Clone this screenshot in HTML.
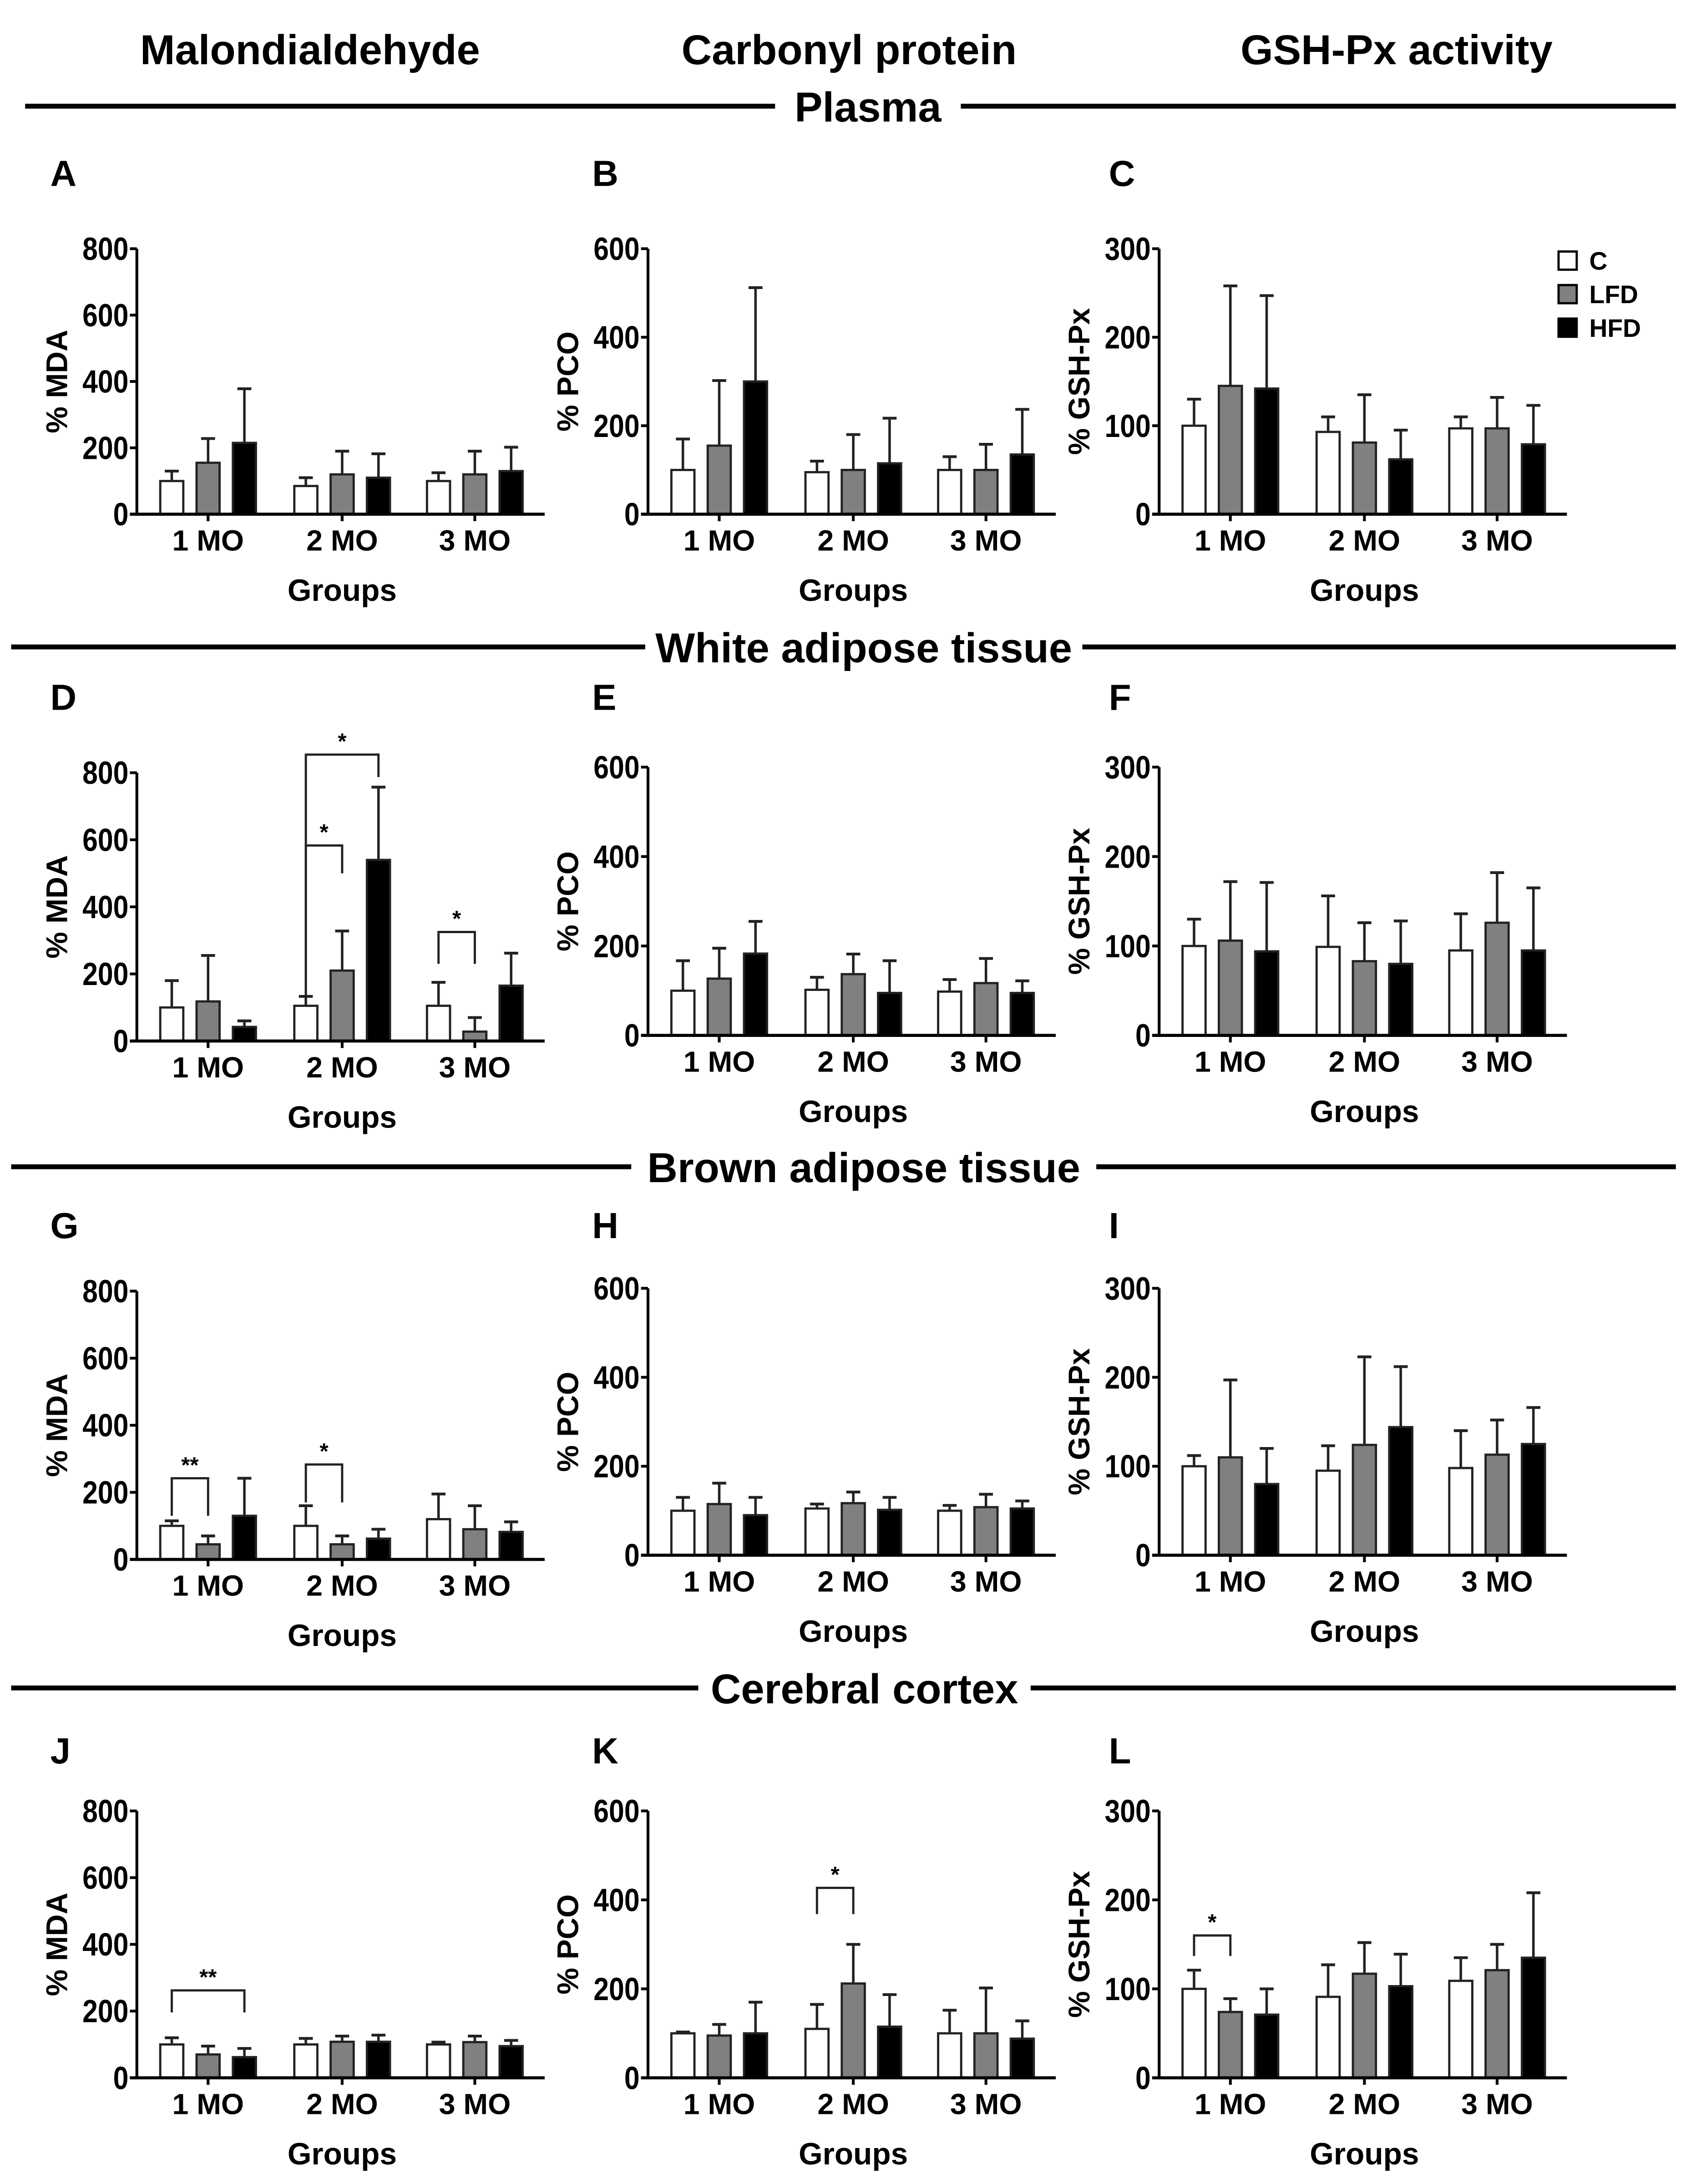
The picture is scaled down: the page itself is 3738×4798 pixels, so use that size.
<!DOCTYPE html>
<html><head><meta charset="utf-8"><style>
html,body{margin:0;padding:0;background:#fff;}
svg{display:block;}
text{font-family:"Liberation Sans",Arial,sans-serif;font-weight:bold;fill:#000;}
</style></head><body>
<svg id="fig" xmlns="http://www.w3.org/2000/svg" width="3738" height="4798" viewBox="0 0 1218 1563" preserveAspectRatio="none">
<text x="222" y="46" font-size="30" text-anchor="middle">Malondialdehyde</text>
<text x="608" y="46" font-size="30" text-anchor="middle">Carbonyl protein</text>
<text x="1000" y="46" font-size="30" text-anchor="middle">GSH-Px activity</text>
<g id="charts"></g>
</svg>
<script>
const categories = ['1 MO','2 MO','3 MO'];
const seriesNames = ['C','LFD','HFD'];
const seriesFill = ['#fff','#808080','#000'];
const sections = ['Plasma','White adipose tissue','Brown adipose tissue','Cerebral cortex'];
const letters = ['A','B','C','D','E','F','G','H','I','J','K','L'];
const yMaxes = [800,600,300];
const yTickSteps = [200,200,100];
const yTitles = ['% MDA','% PCO','% GSH-Px'];
// means [C, LFD, HFD] per group, error tops (mean+SD)
const A_mean = [[100,155,215],[85,120,110],[100,120,130]];
const A_top  = [[130,228,378],[110,190,182],[125,190,202]];
const B_mean = [[100,155,300],[95,100,115],[100,100,135]];
const B_top  = [[170,302,512],[120,180,217],[130,158,237]];
const C_mean = [[100,145,142],[93,81,62],[97,97,79]];
const C_top  = [[130,258,247],[110,135,95],[110,132,123]];
const D_mean = [[100,118,42],[105,210,540],[105,28,165]];
const D_top  = [[180,255,60],[133,328,757],[175,70,262]];
const E_mean = [[100,127,183],[102,137,95],[98,117,95]];
const E_top  = [[167,195,255],[130,182,167],[125,172,122]];
const F_mean = [[100,106,94],[99,83,80],[95,126,95]];
const F_top  = [[130,172,171],[156,126,128],[136,182,165]];
const G_mean = [[100,45,130],[100,45,62],[120,90,82]];
const G_top  = [[115,70,242],[160,70,90],[195,160,112]];
const H_mean = [[100,115,90],[105,117,102],[100,108,105]];
const H_top  = [[130,162,130],[115,142,130],[112,137,122]];
const I_mean = [[100,110,80],[95,124,144],[98,113,125]];
const I_top  = [[112,197,120],[123,223,212],[140,152,166]];
const J_mean = [[100,70,62],[100,108,108],[100,107,95]];
const J_top  = [[120,95,88],[118,125,128],[107,125,112]];
const K_mean = [[100,95,100],[110,212,115],[100,100,88]];
const K_top  = [[103,120,170],[165,300,187],[152,202,128]];
const L_mean = [[100,74,71],[91,117,103],[109,121,135]];
const L_top  = [[121,89,100],[127,152,139],[135,150,208]];
// brackets: [group, s1, s2, yValue, leftLegEnd, rightLegEnd, label]
const D_brackets = [[1,0,2,854,125,787,'*'],[1,0,1,583,125,500,'*'],[2,0,1,325,230,230,'*']];
const G_brackets = [[0,0,1,242,130,130,'**'],[1,0,1,283,170,170,'*']];
const J_brackets = [[0,0,2,262,196,196,'**']];
const K_brackets = [[1,0,1,427,368,368,'*']];
const L_brackets = [[0,0,1,160,137,137,'*']];

const means = [A_mean,B_mean,C_mean,D_mean,E_mean,F_mean,G_mean,H_mean,I_mean,J_mean,K_mean,L_mean];
const tops = [A_top,B_top,C_top,D_top,E_top,F_top,G_top,H_top,I_top,J_top,K_top,L_top];
const brackets = {3:D_brackets,6:G_brackets,9:J_brackets,10:K_brackets,11:L_brackets};

const NS='http://www.w3.org/2000/svg';
const root=document.getElementById('charts');
function mk(parent,tag,attrs,txt){const e=document.createElementNS(NS,tag);for(const k in attrs)e.setAttribute(k,attrs[k]);if(txt!==undefined)e.textContent=txt;parent.appendChild(e);return e;}

// section dividers
const secY=[76,463,835,1208];
const secGap=[[555,688],[462,775],[452,785],[500,738]];
sections.forEach((s,i)=>{
  const l1=mk(root,'line',{x1:i==0?18:8,x2:secGap[i][0],y1:secY[i],y2:secY[i],stroke:'#000','stroke-width':3.5});
  
  
  const l2=mk(root,'line',{x1:secGap[i][1],x2:1200,y1:secY[i],y2:secY[i],stroke:'#000','stroke-width':3.5});
  
  
  const t=mk(root,'text',{x:(secGap[i][0]+secGap[i][1])/2,y:secY[i]+11,'font-size':30,'text-anchor':'middle'},s);
  
  
});

const colX=[98,464,830];
const axisLen=292;
const groupOff=[51,147,242];
const barOff=[-26,0,26];
const barW=16.5;
const rowGeom=[[[178,368],[178,368],[178,368]],[[553,745],[549,741],[549,741]],[[924,1116],[922,1113],[922,1113]],[[1296,1487],[1296,1487],[1296,1487]]];
const letterY=[133,508,886,1262];
const letterX=[36,424,794];
const yTitleX=[48,414,780];

for(let p=0;p<12;p++){
  const r=Math.floor(p/3), c=p%3;
  const x0=colX[c], top=rowGeom[r][c][0], zero=rowGeom[r][c][1];
  const ymax=yMaxes[c];
  const ys=v=>zero-(v/ymax)*(zero-top);
  const xs=(g,s)=>x0+groupOff[g]+barOff[s];
  const g=mk(root,'g',{});
  
  
  const lt=mk(g,'text',{x:letterX[c],y:letterY[r],'font-size':26},letters[p]);
  
  
  for(let gi=0;gi<3;gi++){
    for(let s=0;s<3;s++){
      const m=means[p][gi][s], t=tops[p][gi][s], cx=xs(gi,s);
      const el=mk(g,'line',{x1:cx,x2:cx,y1:ys(m),y2:ys(t),stroke:'#222','stroke-width':1.8});
      
      
      const cap=mk(g,'line',{x1:cx-5,x2:cx+5,y1:ys(t),y2:ys(t),stroke:'#222','stroke-width':2});
      
      
      const b=mk(g,'rect',{x:cx-barW/2,y:ys(m),width:barW,height:zero-ys(m),fill:seriesFill[s],stroke:'#222','stroke-width':1.6});
      
      
    }
  }
  const ya=mk(g,'line',{x1:x0,x2:x0,y1:top,y2:zero,stroke:'#000','stroke-width':2});
  
  
  const xa=mk(g,'line',{x1:x0-5,x2:x0+axisLen,y1:zero,y2:zero,stroke:'#000','stroke-width':2.2});
  
  
  for(let v=0;v<=ymax;v+=yTickSteps[c]){
    const tk=mk(g,'line',{x1:x0-5,x2:x0,y1:ys(v),y2:ys(v),stroke:'#000','stroke-width':2});
    
    
    const tl=mk(g,'text',{x:x0-6,y:ys(v)+8,'font-size':23,'text-anchor':'end',transform:`translate(${x0-6},0) scale(0.86,1) translate(${-(x0-6)},0)`},String(v));
    
    
  }
  categories.forEach((cat,gi)=>{
    const cx=x0+groupOff[gi];
    const tk=mk(g,'line',{x1:cx,x2:cx,y1:zero,y2:zero+5,stroke:'#000','stroke-width':2});
    
    
    const tl=mk(g,'text',{x:cx,y:zero+26,'font-size':21,'text-anchor':'middle'},cat);
    
    
  });
  const xt=mk(g,'text',{x:x0+147,y:zero+62,'font-size':22,'text-anchor':'middle'},'Groups');
  
  
  const my=(top+zero)/2, tx=yTitleX[c];
  const yt=mk(g,'text',{x:tx,y:my,'font-size':21.5,'text-anchor':'middle',transform:`rotate(-90 ${tx} ${my})`},yTitles[c]);
  
  
  (brackets[p]||[]).forEach(bk=>{
    const [gi,s1,s2,yv,l,rr,lab]=bk;
    const xa1=xs(gi,s1), xa2=xs(gi,s2), yy=ys(yv);
    const pth=mk(g,'path',{d:`M${xa1},${ys(l)} L${xa1},${yy} L${xa2},${yy} L${xa2},${ys(rr)}`,fill:'none',stroke:'#222','stroke-width':1.6});
    
    
    const st=mk(g,'text',{x:(xa1+xa2)/2,y:yy-4,'font-size':16,'text-anchor':'middle'},lab);
    
    
  });
}
const leg=mk(root,'g',{});


seriesNames.forEach((n,i)=>{
  const y=180+i*24;
  const sq=mk(leg,'rect',{x:1116,y:y,width:13,height:13,fill:seriesFill[i],stroke:'#000','stroke-width':1.6});
  
  
  const t=mk(leg,'text',{x:1138,y:y+13,'font-size':18},n);
  
  
});
</script>
</body></html>
